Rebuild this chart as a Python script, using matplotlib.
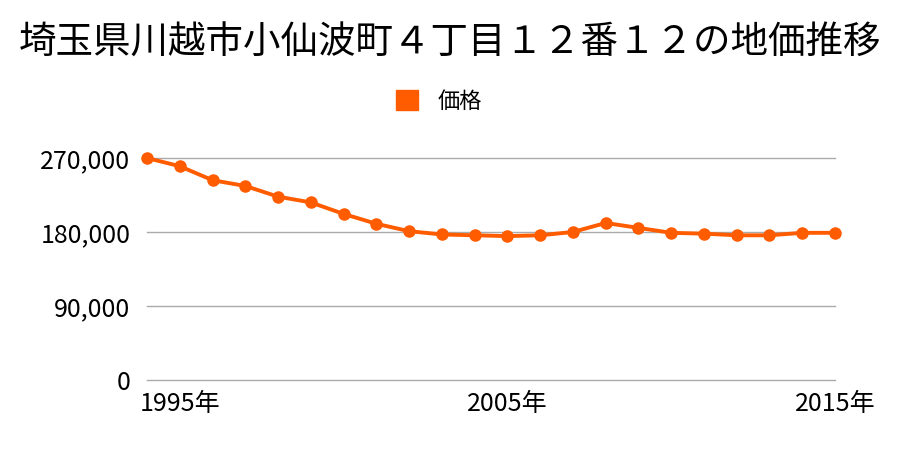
import matplotlib
matplotlib.use("Agg")
import matplotlib.pyplot as plt
import matplotlib.ticker as mticker

plt.rcParams['font.family'] = ['Noto Sans CJK JP', 'DejaVu Sans']

title = "埼玉県川越市小仙波町４丁目１２番１２の地価推移"
years = list(range(1994, 2016))
prices = [270000, 260000, 243000, 236000, 223000, 216000, 202000, 190000,
          181000, 177000, 176000, 175000, 176000, 180000, 191000, 185000,
          179000, 178000, 176000, 176000, 179000, 179000]
yticks = [0, 90000, 180000, 270000]
xticks = [1995, 2005, 2015]
color = "#FF5C00"

fig = plt.figure(figsize=(9, 4.5), dpi=100)
ax = fig.add_axes([147/900, 1 - 380/450, 688/900, 222/450])

ax.plot(years, prices, color=color, lw=2.8, marker="o", ms=8,
        clip_on=False, zorder=3, label="価格")

ax.set_xlim(years[0], years[-1])
ax.set_ylim(0, 270000)
ax.set_yticks(yticks)
ax.yaxis.set_major_formatter(mticker.FuncFormatter(lambda v, p: "{:,}".format(int(v))))
ax.set_xticks(xticks)
ax.set_xticklabels([str(y) + "年" for y in xticks])
for v in yticks:
    ax.axhline(v, color="#aaaaaa", lw=1, clip_on=False, zorder=1)
for s in ax.spines.values():
    s.set_visible(False)
ax.tick_params(length=0, labelsize=18)
ax.tick_params(axis="y", pad=12)
ax.tick_params(axis="x", pad=8)

fig.text(0.5, 0.905, title, ha="center", va="center", fontsize=27)
leg = fig.legend(handles=[plt.Rectangle((0, 0), 1, 1, color=color)], labels=["価格"],
                 loc="center", bbox_to_anchor=(0.488, 0.775), frameon=False,
                 fontsize=16, handlelength=1.0, handleheight=1.0, handletextpad=0.9)

fig.savefig("out.png", dpi=100)
